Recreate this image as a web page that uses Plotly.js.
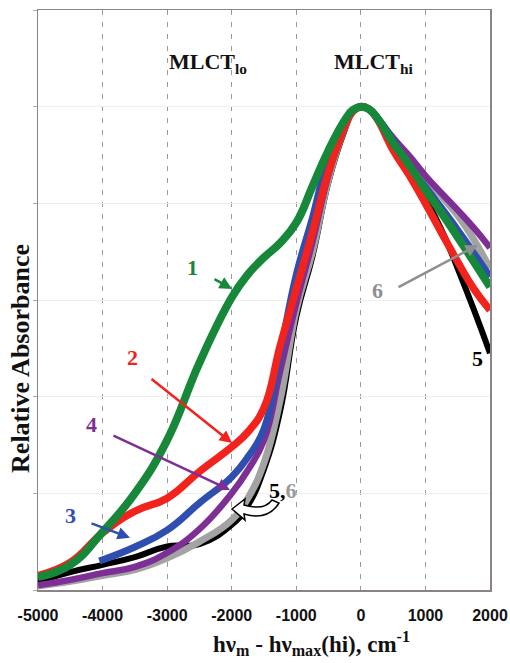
<!DOCTYPE html>
<html>
<head>
<meta charset="utf-8">
<script src="https://cdn.plot.ly/plotly-3.0.1.min.js"></script>
<style>
  html, body { margin: 0; padding: 0; background: #ffffff; }
  #chart { width: 510px; height: 663px; }
</style>
</head>
<body>
<div id="chart"></div>
<script>
// Energy offset grid (cm^-1)
const energyOffset = [-5000,-4500,-4000,-3500,-3000,-2500,-2000,-1750,-1500,-1250,-1000,-750,-500,-250,-125,0,125,250,500,750,1000,1250,1500,1750,2000];
const energyOffset3 = [-4050,-3500,-3000,-2500,-2000,-1750,-1500,-1250,-1000,-750,-500,-250,-125,0,125,250,500,750,1000,1250,1500,1750,2000];

// Relative absorbance series
const series1 = [0.027,0.052,0.12,0.20,0.31,0.47,0.605,0.653,0.688,0.718,0.76,0.835,0.91,0.972,0.993,1.0,0.995,0.977,0.925,0.879,0.828,0.78,0.73,0.679,0.627];
const series2 = [0.03,0.057,0.118,0.163,0.19,0.245,0.296,0.327,0.377,0.505,0.623,0.74,0.865,0.958,0.99,1.0,0.995,0.975,0.91,0.858,0.80,0.739,0.679,0.623,0.579];
const series3 = [0.06,0.089,0.124,0.18,0.234,0.275,0.333,0.49,0.652,0.77,0.895,0.97,0.992,1.0,0.995,0.978,0.93,0.875,0.834,0.79,0.745,0.697,0.648];
const series4 = [0.01,0.021,0.035,0.048,0.077,0.126,0.20,0.248,0.31,0.453,0.594,0.72,0.86,0.962,0.99,1.0,0.995,0.977,0.935,0.898,0.857,0.821,0.786,0.749,0.708];
const series5 = [0.017,0.037,0.052,0.068,0.09,0.095,0.135,0.175,0.25,0.37,0.565,0.69,0.845,0.952,0.99,1.0,0.995,0.978,0.92,0.865,0.81,0.745,0.665,0.58,0.49];
const series6 = [0.008,0.018,0.03,0.042,0.066,0.10,0.145,0.19,0.263,0.393,0.58,0.70,0.85,0.957,0.99,1.0,0.995,0.977,0.935,0.895,0.855,0.815,0.775,0.725,0.665];

const xTickVals = [-5000,-4000,-3000,-2000,-1000,0,1000,2000];
const xTickText = ['-5000','-4000','-3000','-2000','-1000','0','1000','2000'];

const C = {
  g: '#17883a', r: '#f2231c', b: '#2f4fb0', p: '#7d2f96', k: '#000000', s: '#a3a3a3'
};

function tr(x, y, color, w, name) {
  return { x: x, y: y, type: 'scatter', mode: 'lines', name: name,
    line: { color: color, width: w, shape: 'spline', smoothing: 1.3 }, hoverinfo: 'skip' };
}

const data = [
  tr(energyOffset, series5, C.k, 6, '5'),
  tr(energyOffset, series6, C.s, 7, '6'),
  tr(energyOffset, series4, C.p, 6.5, '4'),
  tr(energyOffset3, series3, C.b, 7, '3'),
  tr(energyOffset, series2, C.r, 7.5, '2'),
  tr(energyOffset, series1, C.g, 8, '1')
];

// pixel -> data helpers for decorations only (plot area 38..490 x 10..590)
function dx(px) { return (px - 38) / 452 * 7000 - 5000; }
function dy(py) { return (590 - py) / 580 * 1.2; }

const serif = 'Liberation Serif, Times New Roman, serif';
function lab(text, x, y, color, size) {
  return { text: text, x: x, y: y, xref: 'x', yref: 'y', showarrow: false,
    xanchor: 'center', yanchor: 'middle',
    font: { family: serif, size: size || 22, color: color, weight: 'bold' } };
}
function arr(x, y, ax, ay, color, w) {
  return { text: '', x: x, y: y, ax: ax, ay: ay, xref: 'x', yref: 'y', axref: 'x', ayref: 'y',
    showarrow: true, arrowhead: 2, arrowsize: 1, arrowwidth: w || 2.5, arrowcolor: color };
}

const annotations = [
  lab('MLCT<sub>lo</sub>', -2367, 1.09, '#111', 22),
  lab('MLCT<sub>hi</sub>', 204, 1.09, '#111', 22),
  lab('1', -2600, 0.668, C.g),
  arr(-1995, 0.623, -2290, 0.645, C.g, 2.5),
  lab('2', -3544, 0.482, C.r),
  arr(-1995, 0.304, -3265, 0.439, C.r, 2.5),
  lab('4', -4164, 0.343, C.p),
  arr(-2026, 0.207, -3854, 0.321, C.p, 2.5),
  lab('3', -4504, 0.155, C.b),
  arr(-3575, 0.108, -4195, 0.139, C.b, 2.5),
  lab('5,<span style="color:#9a9a9a">6</span>', -1206, 0.205, '#000'),
  lab('6', 265, 0.62, '#8f8f8f'),
  arr(1814, 0.714, 560, 0.625, '#8f8f8f', 2.5),
  lab('5', 1814, 0.48, '#000'),
  { text: 'Relative Absorbance', xref: 'paper', yref: 'paper', x: -0.04, y: 0.40, textangle: -90,
    xanchor: 'center', yanchor: 'middle',
    showarrow: false, font: { family: serif, size: 26, color: '#111', weight: 'bold' } },
  { text: 'h\u03bd<sub>m</sub> - h\u03bd<sub>max</sub>(hi), cm<sup>-1</sup>', xref: 'paper', yref: 'paper',
    x: 0.606, y: -0.093, xanchor: 'center', yanchor: 'middle',
    showarrow: false, font: { family: serif, size: 23, color: '#111', weight: 'bold' } }
];

// hollow curved arrow (pixel outline converted to data coordinates)
function P(px, py) { return dx(px).toFixed(1) + ',' + dy(py).toFixed(4); }
const hollowPath = 'M' + P(232, 509) + ' L' + P(245, 499) + ' L' + P(244, 505) +
  ' Q' + P(264, 511) + ' ' + P(272, 500) + ' L' + P(279, 503) +
  ' Q' + P(268, 521) + ' ' + P(244, 514) + ' L' + P(245, 520) + ' Z';

const layout = {
  width: 510, height: 663,
  margin: { l: 38, r: 20, t: 10, b: 73 },
  paper_bgcolor: '#ffffff', plot_bgcolor: '#ffffff',
  showlegend: false,
  xaxis: {
    range: [-5000, 2000], tickvals: xTickVals, ticktext: xTickText,
    showgrid: true, gridcolor: '#9a9a9a', griddash: '5px,7px', gridwidth: 1,
    zeroline: false, showline: true, linecolor: '#8c8484', linewidth: 1.5, mirror: true,
    ticks: '', ticklabelstandoff: 10,
    tickfont: { family: 'Liberation Sans, Arial, sans-serif', size: 16, color: '#111', weight: 'bold' }
  },
  yaxis: {
    range: [0, 1.2], dtick: 0.2, showticklabels: false,
    showgrid: true, gridcolor: '#eeeeee', gridwidth: 1,
    zeroline: false, showline: true, linecolor: '#8c8484', linewidth: 1.5, mirror: true,
    ticks: 'outside', ticklen: 4, tickcolor: '#aaaaaa'
  },
  shapes: [
    { type: 'path', xref: 'x', yref: 'y', path: hollowPath,
      fillcolor: '#ffffff', line: { color: '#000000', width: 1.5 } }
  ],
  annotations: annotations
};

Plotly.newPlot('chart', data, layout, { staticPlot: true, displayModeBar: false });
</script>
</body>
</html>
